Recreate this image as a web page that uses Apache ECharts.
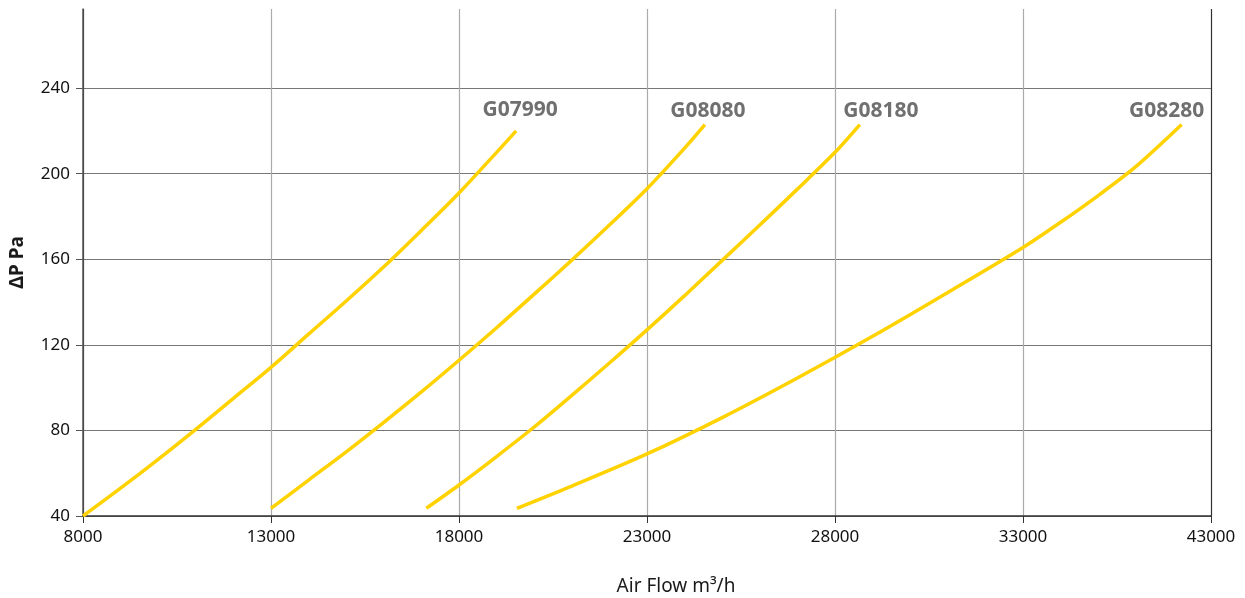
<!DOCTYPE html>
<html>
<head>
<meta charset="utf-8">
<script src="https://cdn.jsdelivr.net/npm/echarts@6/dist/echarts.min.js"></script>
<style>html,body{margin:0;padding:0;background:#fff}#c{width:1245px;height:598px}</style>
</head>
<body>
<div id="c"></div>
<script>
// ---- data ----
const seriesNames = ['G07990', 'G08080', 'G08180', 'G08280'];
const g07990Flow = [8000, 9000, 10000, 11000, 12000, 13000, 14000, 15000, 16000, 17000, 18000, 19000, 19520];
const g07990Dp   = [40, 53, 66.5, 80.5, 95, 109.5, 125, 140.5, 156.5, 173.5, 191, 210, 220];
const g08080Flow = [13000, 14000, 15000, 16000, 17000, 18000, 19000, 20000, 21000, 22000, 23000, 24000, 24540];
const g08080Dp   = [43.6, 56.8, 70, 83.8, 98, 112.8, 128, 143.7, 159.6, 176, 193, 212, 223];
const g08180Flow = [17130, 18000, 19000, 20000, 21000, 22000, 23000, 24000, 25000, 26000, 27000, 28000, 28660];
const g08180Dp   = [43.6, 54.5, 67.8, 81.6, 96.4, 111.5, 127, 143, 159.5, 176, 192.8, 210, 223];
const g08280Flow = [19540, 21000, 23000, 25000, 27000, 29000, 31000, 33000, 34000, 35000, 36000, 37220];
const g08280Dp   = [43.6, 54, 69, 86, 104.5, 124, 144.5, 165.5, 177.3, 189.8, 203.3, 223];
const xTickValues = [8000, 13000, 18000, 23000, 28000, 33000, 38000];
const xTickLabels = ['8000', '13000', '18000', '23000', '28000', '33000', '43000'];
const yTickValues = [40, 80, 120, 160, 200, 240];

const flows = [g07990Flow, g08080Flow, g08180Flow, g08280Flow];
const dps = [g07990Dp, g08080Dp, g08180Dp, g08280Dp];
const labelOffsets = [[4, -21], [3, -14], [21, -14], [-15, -14]];

const series = seriesNames.map((name, i) => ({
  name, type: 'line', smooth: 0.3, showSymbol: false, symbol: 'none', silent: true,
  lineStyle: { color: '#FFD200', width: 3.5, cap: 'butt' },
  endLabel: {
    show: true, formatter: name, distance: 0, offset: labelOffsets[i],
    align: 'center', verticalAlign: 'middle',
    color: '#707070', fontSize: 21, fontWeight: 'bold', fontFamily: 'Noto Sans'
  },
  data: flows[i].map((x, j) => [x, dps[i][j]])
}));

const chart = echarts.init(document.getElementById('c'), null, { renderer: 'canvas' });
chart.setOption({
  animation: false,
  backgroundColor: '#fff',
  grid: { left: 83, right: 34, top: 9, bottom: 82, containLabel: false, outerBoundsMode: 'none' },
  xAxis: {
    type: 'value', min: 8000, max: 38000, interval: 5000,
    name: 'Air Flow m³/h', nameLocation: 'middle', nameGap: 61,
    nameTextStyle: { fontSize: 19, color: '#1a1a1a', fontFamily: 'Noto Sans', padding: [0, 0, 0, 58] },
    axisLine: { show: true, lineStyle: { color: '#333', width: 1.5 } },
    axisTick: { show: true, length: 7, lineStyle: { color: '#333' }, customValues: xTickValues },
    axisLabel: {
      margin: 13, fontSize: 17, color: '#111', fontFamily: 'Noto Sans',
      customValues: xTickValues,
      formatter: (v) => xTickLabels[xTickValues.indexOf(v)]
    },
    splitLine: { show: true, lineStyle: { color: ['#333', '#aaa', '#aaa', '#aaa', '#aaa', '#aaa', '#333'], width: 1.2 } }
  },
  yAxis: {
    type: 'value', min: 40, max: 277, interval: 40,
    name: 'ΔP Pa', nameLocation: 'middle', nameGap: 44, nameRotate: 90,
    nameTextStyle: { fontSize: 19, fontWeight: 'bold', color: '#1a1a1a', fontFamily: 'Noto Sans', padding: [0, 0, 12, 0] },
    axisLine: { show: true, lineStyle: { color: '#555', width: 1.5 } },
    axisTick: { show: true, length: 7, lineStyle: { color: '#555' }, customValues: yTickValues },
    axisLabel: { margin: 13, fontSize: 17, color: '#111', fontFamily: 'Noto Sans', customValues: yTickValues },
    splitLine: { show: true, lineStyle: { color: '#777', width: 1 } }
  },
  series
});
</script>
</body>
</html>
